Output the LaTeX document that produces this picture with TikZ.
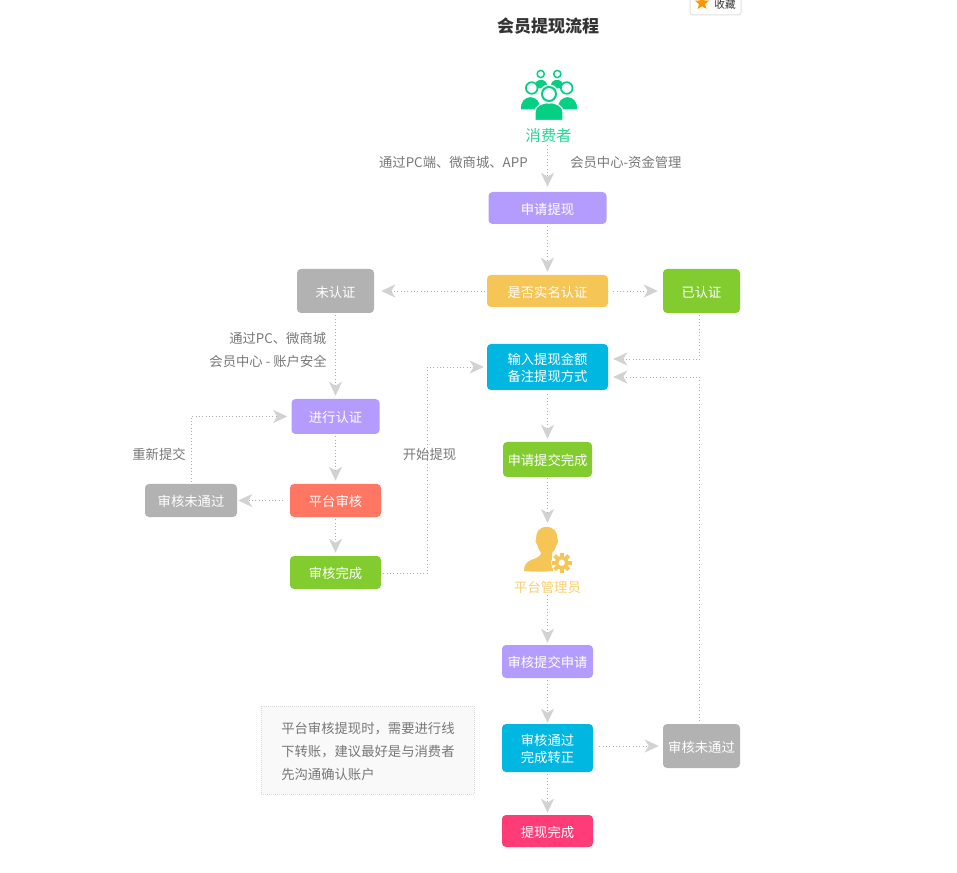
\documentclass[tikz,border=0pt]{standalone}
\usepackage{fontspec}
\setmainfont{Noto Sans CJK SC}
\usetikzlibrary{arrows.meta,calc,shapes.geometric}
\definecolor{boxpurple}{HTML}{B49CFF}
\definecolor{boxyellow}{HTML}{F5C555}
\definecolor{boxgray}{HTML}{B2B2B2}
\definecolor{boxgreen}{HTML}{82CC30}
\definecolor{boxblue}{HTML}{00B7E2}
\definecolor{boxcoral}{HTML}{FF7662}
\definecolor{boxpink}{HTML}{FF3B78}
\definecolor{usergreen}{HTML}{05CF82}
\definecolor{tipgray}{HTML}{D2D2D2}
\definecolor{linegray}{HTML}{ABABAB}
\definecolor{labelgray}{HTML}{777777}
\tikzset{
	box/.style 2 args={rounded corners=3pt, text=white, inner sep=0pt, align=center, minimum width=#1*0.75pt, minimum height=#2*0.75pt, text height=10pt, font=\fontsize{10}{12.5}\selectfont},
	twolines/.style={text height=22.5pt},
	flow/.style={draw=linegray, line width=0.5pt, dotted, shorten <=1.5pt, shorten >=2.25pt, -{Stealth[length=10.5pt,width=9.75pt,inset=3pt,color=tipgray]}},
	edgelabel/.style={text=labelgray, inner sep=0pt, font=\fontsize{10}{12}\selectfont},
}
\begin{document}
\begin{tikzpicture}[x=0.75pt,y=-0.75pt]
		%%%%% START %%%%%
		\useasboundingbox (0,0) rectangle (957,873);
		
		% badge
		\begin{scope}
			\clip (0,0) rectangle (957,873);
			\draw[draw=black!12, line width=0.75pt, fill=white, rounded corners=2pt] (690,-8) rectangle (741,15);
			\node[star, star points=5, star point ratio=2.3, fill=orange!85!yellow, inner sep=0pt, minimum size=11pt] (badgestar) at (702,3) {};
			\node[inner sep=0pt, text=black!80, font=\fontsize{8}{10}\selectfont] (badgetext) at (725,4) {收藏};
		\end{scope}
		\node[inner sep=0pt, text=black!80, font=\fontsize{12.75}{15}\bfseries\selectfont] (title) at (548,25.7) {会员提现流程};
		
		% consumer icon
		\foreach \bx/\by in {541/80,557/80}
			\fill[usergreen] (\bx-6.5,\by+8.5) .. controls (\bx-6.5,\by+1) and (\bx-3,\by) .. (\bx,\by) .. controls (\bx+3,\by) and (\bx+6.5,\by+1) .. (\bx+6.5,\by+8.5) -- cycle;
		\foreach \hx/\hy in {540.7/74,557.3/74}
			\draw[usergreen, line width=1.1pt, fill=white] (\hx,\hy) circle (3.6);
		\foreach \bx in {530.5,567.5}
			\fill[usergreen, draw=white, line width=0.75pt] (\bx-10,110) .. controls (\bx-11,101) and (\bx-6,97) .. (\bx,96.5) .. controls (\bx+6,97) and (\bx+11,101) .. (\bx+10,110) -- cycle;
		\foreach \hx in {531.7,566.7}
			\draw[usergreen, line width=1.3pt, fill=white] (\hx,88) circle (5.8);
		\fill[usergreen, draw=white, line width=0.9pt] (535,120.5) -- (535,112) .. controls (535,106) and (541,103) .. (549,102.5) .. controls (557,103) and (563,106) .. (563,112) -- (563,120.5) -- cycle;
		\draw[white, line width=1pt, fill=white] (549,94) circle (9);
		\draw[usergreen, line width=1.5pt, fill=white] (549,94) circle (7);
		\node[inner sep=0pt, text=usergreen!85!white, font=\fontsize{11.6}{14}\selectfont] (xiaofeizhe) at (548.5,136) {消费者};
		
		% center column
		\node[box={118}{32}, fill=boxpurple] (shenqing) at (547.5,208) {申请提现};
		\node[box={121}{32}, fill=boxyellow] (shifou) at (547.5,291) {是否实名认证};
		\node[box={121}{46}, twolines, fill=boxblue] (shuru) at (547.5,367) {输入提现金额\\备注提现方式};
		\node[box={89}{35}, fill=boxgreen] (tijiaowan) at (547.5,459.5) {申请提交完成};
		
		% admin icon
		\fill[boxyellow] (546.5,527) .. controls (539,527) and (536,532) .. (536,539) -- (535.5,542) -- (537.5,545) .. controls (538,549) and (540,551) .. (541,553) .. controls (541,556) and (537,558) .. (531,560) .. controls (526,562) and (524,566) .. (524,571) .. controls (532,572) and (545,572) .. (553,571) -- (552.5,566) -- (552,556) -- (552,553) .. controls (555,550) and (556,547) .. (556.5,545) -- (558,542) -- (557.5,539) .. controls (557.5,532) and (554,527) .. (546.5,527) -- cycle;
		\draw[white, line width=1.5pt, fill=white] (561.7,562.7) circle (9.5);
		\foreach \ang in {0,45,...,315}
			\fill[boxyellow, rotate around={\ang:(561.7,562.7)}] (559.7,552.7) rectangle (563.7,558);
		\draw[boxyellow, line width=2.6pt] (561.7,562.7) circle (5.2);
		\coordinate (adminicon) at (547.5,527);
		\node[inner sep=0pt, text=boxyellow!85!white, font=\fontsize{10}{12}\selectfont] (guanliyuan) at (547.5,587) {平台管理员};
		
		\node[box={91}{33}, fill=boxpurple] (shenhetijiao) at (547.5,661.5) {审核提交申请};
		\node[box={91}{48}, twolines, fill=boxblue] (tongguo) at (547.5,748) {审核通过\\完成转正};
		\node[box={91}{32}, fill=boxpink] (tixianwan) at (547.5,831) {提现完成};
		
		% right column
		\node[box={77}{44}, fill=boxgreen] (yirenzheng) at (701.5,291) {已认证};
		\node[box={77}{44}, fill=boxgray] (butongguoright) at (701.5,746) {审核未通过};
		
		% left column
		\node[box={77}{44}, fill=boxgray] (weirenzheng) at (335.5,291) {未认证};
		\node[box={88}{35}, fill=boxpurple] (jinxing) at (335.5,416.5) {进行认证};
		\node[box={91}{33}, fill=boxcoral] (pingtai) at (335.5,500.5) {平台审核};
		\node[box={92}{33}, fill=boxgray] (butongguoleft) at (191,500.5) {审核未通过};
		\node[box={91}{33}, fill=boxgreen] (shenhewan) at (335.5,572.5) {审核完成};
		
		% note
		\node[draw=black!15, densely dotted, line width=0.5pt, fill=black!2.5, minimum width=213*0.75pt, minimum height=88*0.75pt, inner sep=0pt] (notebox) at (367.5,750) {};
		\node[anchor=west, inner sep=0pt, align=left, text=labelgray, font=\fontsize{10}{17.25}\selectfont] (notetext) at (281,751) {平台审核提现时，需要进行线\\下转账，建议最好是与消费者\\先沟通确认账户};
		
		% labels
		\node[edgelabel, anchor=east] (tongdao) at (528,162) {通过PC端、微商城、APP};
		\node[edgelabel, anchor=west] (zijin) at (570,162) {会员中心-资金管理};
		\node[edgelabel, anchor=east] (tongdaotwo) at (326.5,338) {通过PC、微商城};
		\node[edgelabel, anchor=east] (anquan) at (327,361) {会员中心 - 账户安全};
		\node[edgelabel] (chongxin) at (159,454) {重新提交};
		\node[edgelabel] (kaishi) at (429.5,454) {开始提现};
		
		% connectors
		\draw[flow, shorten >=3.75pt] (xiaofeizhe.south -| shenqing.north) -- (shenqing);
		\draw[flow] (shenqing) -- (shifou);
		\draw[flow, shorten <=1.5pt, shorten >=5.25pt] (shifou) -- (weirenzheng);
		\draw[flow, shorten <=3.75pt, shorten >=3.75pt] (shifou) -- (yirenzheng);
		\draw[flow, shorten >=3.75pt] ($(yirenzheng.south)+(-2,0)$) |- ($(shuru.east)+(0,-8)$);
		\draw[flow, shorten <=2pt, shorten >=3.75pt] ($(butongguoright.north)+(-2,0)$) |- ($(shuru.east)+(0,10)$);
		\draw[flow, shorten <=3pt] (shuru) -- (tijiaowan);
		\draw[flow, shorten <=0.75pt, shorten >=3pt] (tijiaowan) -- (adminicon);
		\draw[flow, shorten >=1.5pt] (guanliyuan) -- (shenhetijiao);
		\draw[flow, shorten >=0.75pt] (shenhetijiao) -- (tongguo);
		\draw[flow, shorten >=1.5pt] (tongguo) -- (tixianwan);
		\draw[flow, shorten <=4.5pt, shorten >=3pt] (tongguo.east |- butongguoright.west) -- (butongguoright.west);
		\draw[flow] (weirenzheng) -- (jinxing);
		\draw[flow] (jinxing) -- (pingtai);
		\draw[flow] (pingtai) -- (shenhewan);
		\draw[flow, shorten <=5.25pt, shorten >=0.75pt] (pingtai) -- (butongguoleft);
		\draw[flow, shorten >=3pt] (butongguoleft.north) |- (jinxing.west);
		\coordinate (kaishiturn) at (427.5,367);
		\draw[flow, shorten >=2.25pt] ($(shenhewan.east)+(0,1)$) -| (kaishiturn) -- (shuru.west);
		%%%%% END %%%%%
	\end{tikzpicture}
\end{document}
